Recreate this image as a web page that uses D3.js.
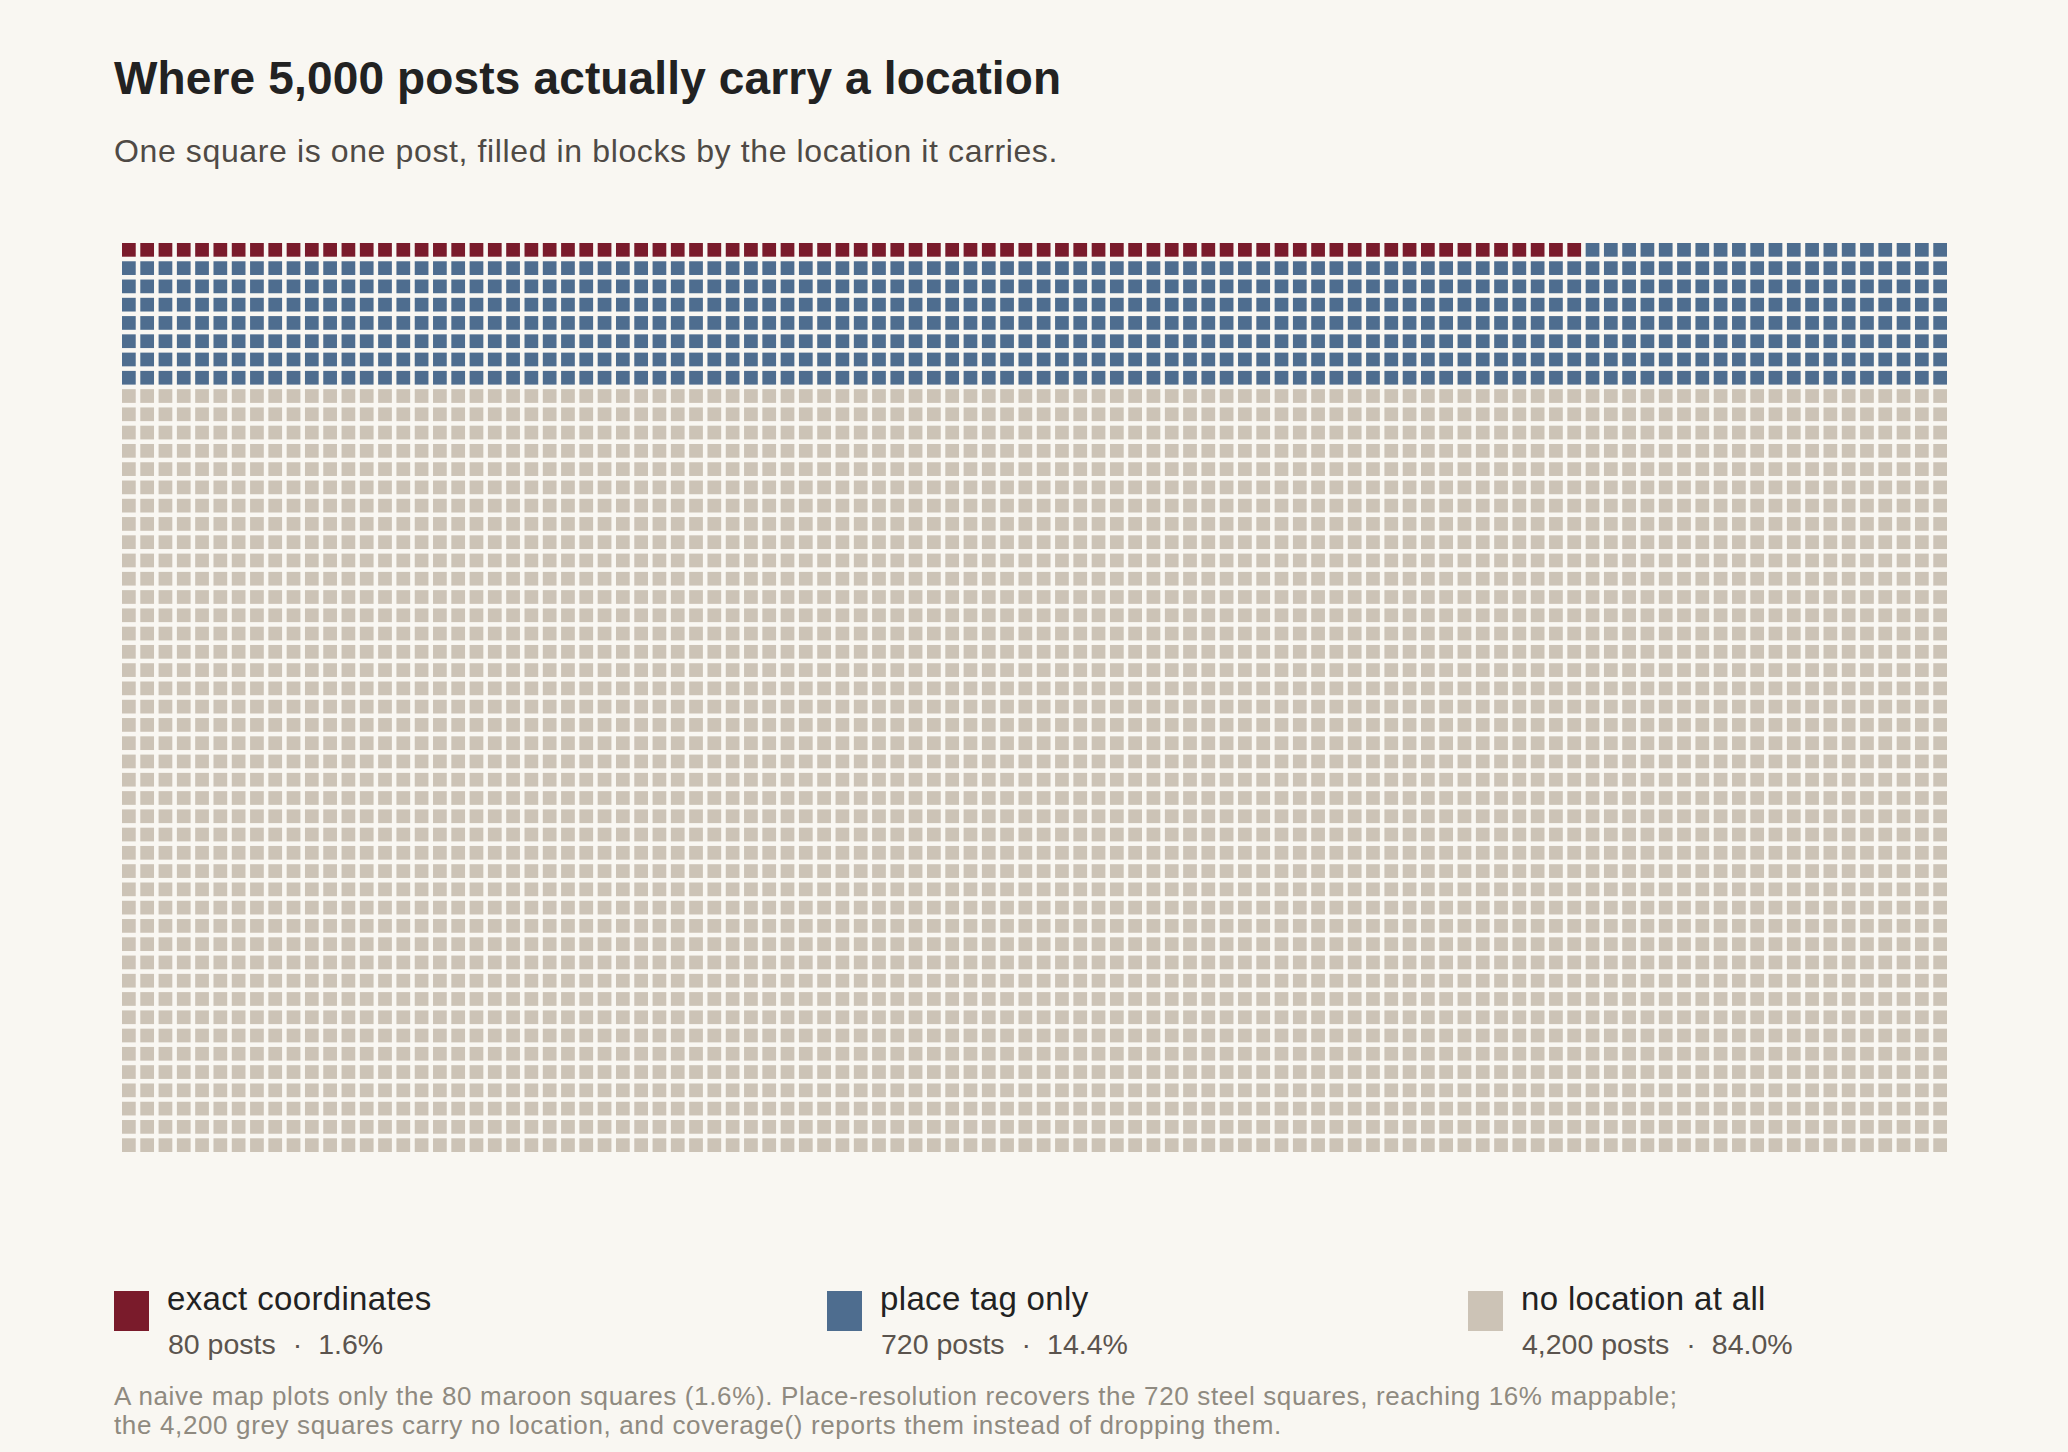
<!DOCTYPE html>
<html>
<head>
<meta charset="utf-8">
<script src="https://cdn.jsdelivr.net/npm/d3@7"></script>
<style>
  html, body { margin: 0; padding: 0; background: #f9f7f2; }
  svg { display: block; font-family: "Liberation Sans", Arial, Helvetica, sans-serif; }
</style>
</head>
<body>
<svg id="chart" width="2068" height="1452"></svg>
<script>
// ---- data ----
const categories = ["exact coordinates", "place tag only", "no location at all"];
const counts = [80, 720, 4200];
const colors = ["#7a1b2b", "#4e6d8f", "#ccc3b6"];
const gridColumns = 100;
const titleText = "Where 5,000 posts actually carry a location";
const subtitleText = "One square is one post, filled in blocks by the location it carries.";
const footnoteLines = [
  "A naive map plots only the 80 maroon squares (1.6%). Place-resolution recovers the 720 steel squares, reaching 16% mappable;",
  "the 4,200 grey squares carry no location, and coverage() reports them instead of dropping them."
];

// ---- layout ----
const W = 2068, H = 1452;
const grid = { left: 122, right: 1947, top: 243, bottom: 1152 };
const legendX = [114, 827, 1468];

const svg = d3.select("#chart");
svg.append("rect").attr("width", W).attr("height", H).attr("fill", "#f9f7f2");

svg.append("text").attr("x", 114).attr("y", 94)
  .attr("font-size", 46).attr("font-weight", 700).attr("fill", "#222")
  .attr("letter-spacing", 0.15)
  .text(titleText);
svg.append("text").attr("x", 114).attr("y", 162)
  .attr("font-size", 32).attr("fill", "#4f4a45")
  .attr("letter-spacing", 0.62)
  .text(subtitleText);

// build one record per post
const total = d3.sum(counts);
const cells = [];
counts.forEach((c, k) => { for (let i = 0; i < c; i++) cells.push(k); });
const rows = Math.ceil(total / gridColumns);

const x = d3.scaleBand().domain(d3.range(gridColumns)).range([grid.left, grid.right]).paddingInner(0.25).paddingOuter(0);
const y = d3.scaleBand().domain(d3.range(rows)).range([grid.top, grid.bottom]).paddingInner(0.25).paddingOuter(0);
const color = d3.scaleOrdinal().domain(d3.range(categories.length)).range(colors);

svg.append("g").selectAll("rect").data(cells).join("rect")
  .attr("x", (d, i) => x(i % gridColumns))
  .attr("y", (d, i) => y(Math.floor(i / gridColumns)))
  .attr("width", x.bandwidth())
  .attr("height", y.bandwidth())
  .attr("fill", d => color(d));

// legend
const fmt = d3.format(",");
const pct = d3.format(".1%");
const lg = svg.append("g").selectAll("g").data(categories).join("g")
  .attr("transform", (d, i) => `translate(${legendX[i]},1291)`);
lg.append("rect").attr("width", 35).attr("height", 40).attr("fill", (d, i) => colors[i]);
lg.append("text").attr("x", 53).attr("y", 19).attr("font-size", 33).attr("fill", "#222")
  .attr("letter-spacing", 0.35).text(d => d);
const sub = lg.append("text").attr("x", 54).attr("y", 63).attr("font-size", 28.5).attr("fill", "#5b544e");
sub.append("tspan").text((d, i) => `${fmt(counts[i])} posts`);
sub.append("tspan").attr("dx", 17).text("·");
sub.append("tspan").attr("dx", 16).text((d, i) => pct(counts[i] / total));

svg.append("g").selectAll("text").data(footnoteLines).join("text")
  .attr("x", 114).attr("y", (d, i) => 1405 + i * 29)
  .attr("font-size", 26).attr("fill", "#8f8a80")
  .attr("letter-spacing", 0.64)
  .text(d => d);
</script>
</body>
</html>
